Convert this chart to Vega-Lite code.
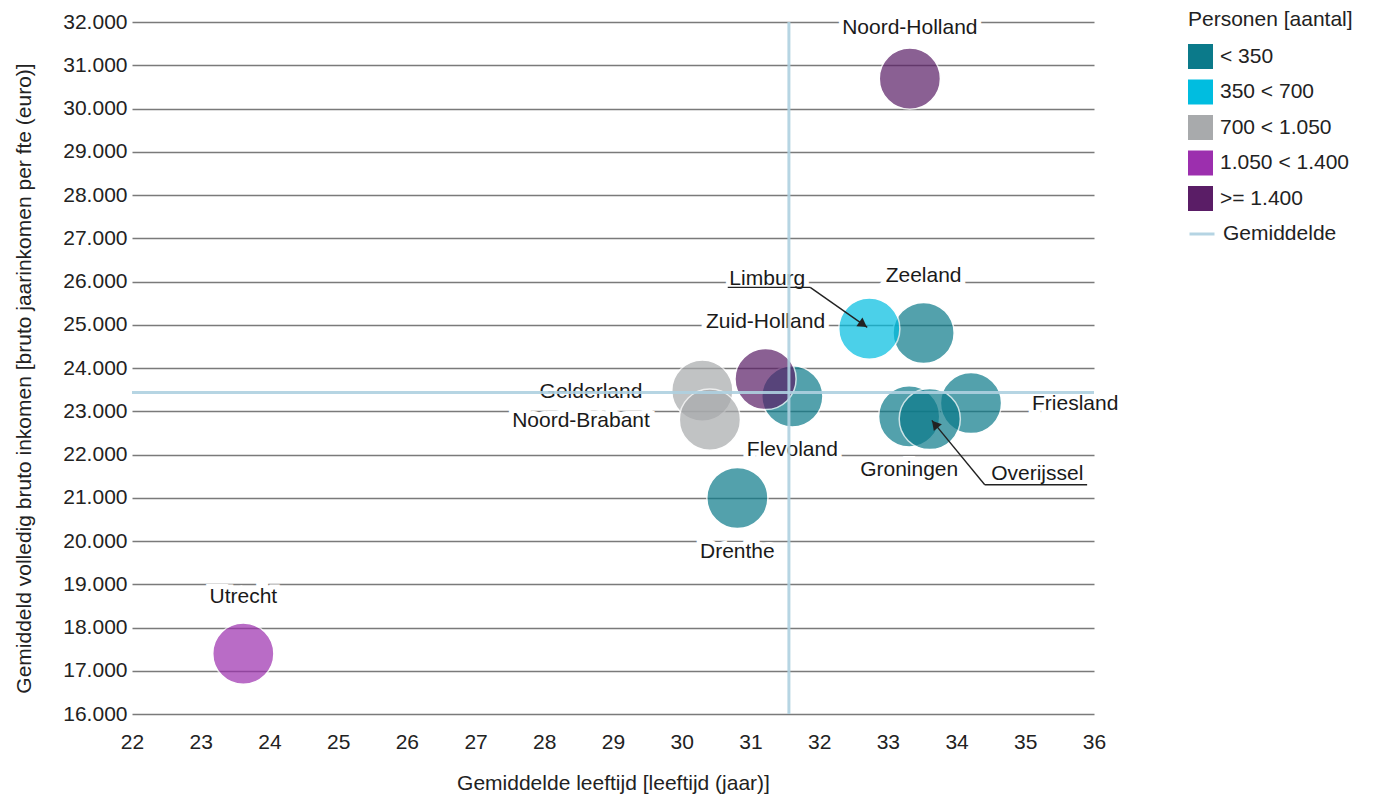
{
  "$schema": "https://vega.github.io/schema/vega-lite/v6.json",
  "width": 962,
  "height": 692,
  "autosize": {"type": "none"},
  "padding": {"left": 132, "top": 22, "right": 286, "bottom": 88},
  "background": "white",
  "config": {
    "font": "Liberation Sans",
    "view": {"stroke": null},
    "axisY": {
      "grid": true, "gridColor": "#7a7a7a", "gridWidth": 1.5, "domain": false, "ticks": false,
      "labelPadding": 5, "labelFontSize": 21, "labelColor": "#222", "labelFlush": false,
      "titleFontSize": 21, "titleFontWeight": "normal", "titleColor": "#222", "titlePadding": 28
    },
    "axisX": {
      "grid": false, "domain": false, "ticks": false,
      "labelPadding": 17, "labelFontSize": 21, "labelColor": "#222", "labelFlush": false,
      "titleFontSize": 21, "titleFontWeight": "normal", "titleColor": "#222", "titlePadding": 20
    },
    "legend": {
      "titleFontSize": 21, "titleFontWeight": "normal", "titleColor": "#222",
      "labelFontSize": 21, "labelColor": "#222", "labelOffset": 7,
      "rowPadding": 10.5, "titlePadding": 14
    }
  },
  "datasets": {
    "prov": [
      {"name": "Zeeland", "age": 33.52, "income": 24810, "cat": "< 350"},
      {"name": "Flevoland", "age": 31.61, "income": 23345, "cat": "< 350"},
      {"name": "Gelderland", "age": 30.30, "income": 23475, "cat": "700 < 1.050"},
      {"name": "Groningen", "age": 33.31, "income": 22880, "cat": "< 350"},
      {"name": "Friesland", "age": 34.21, "income": 23190, "cat": "< 350"},
      {"name": "Drenthe", "age": 30.81, "income": 20995, "cat": "< 350"},
      {"name": "Limburg", "age": 32.73, "income": 24910, "cat": "350 < 700"},
      {"name": "Zuid-Holland", "age": 31.22, "income": 23745, "cat": ">= 1.400"},
      {"name": "Noord-Brabant", "age": 30.41, "income": 22805, "cat": "700 < 1.050"},
      {"name": "Overijssel", "age": 33.61, "income": 22820, "cat": "< 350"},
      {"name": "Noord-Holland", "age": 33.32, "income": 30690, "cat": ">= 1.400"},
      {"name": "Utrecht", "age": 23.62, "income": 17395, "cat": "1.050 < 1.400"}
    ],
    "mean": [
      {"label": "Gemiddelde", "age": 31.56, "income": 23435}
    ],
    "leaders": [
      {"name": "Limburg", "xa": 30.67, "ya": 25864, "xb": 31.87, "yb": 25864},
      {"name": "Limburg", "xa": 31.87, "ya": 25864, "xb": 32.70, "yb": 24939},
      {"name": "Overijssel", "xa": 34.41, "ya": 21302, "xb": 35.90, "yb": 21302},
      {"name": "Overijssel", "xa": 34.41, "ya": 21302, "xb": 33.64, "yb": 22788}
    ],
    "arrows": [
      {"name": "Limburg", "age": 32.64, "income": 25006},
      {"name": "Overijssel", "age": 33.685, "income": 22701}
    ]
  },
  "encoding": {
    "x": {
      "field": "age", "type": "quantitative",
      "scale": {"domain": [22, 36], "nice": false, "zero": false},
      "axis": {"title": "Gemiddelde leeftijd [leeftijd (jaar)]", "values": [22,23,24,25,26,27,28,29,30,31,32,33,34,35,36]}
    },
    "y": {
      "field": "income", "type": "quantitative",
      "scale": {"domain": [16000, 32000], "nice": false, "zero": false},
      "axis": {
        "title": "Gemiddeld volledig bruto inkomen [bruto jaarinkomen per fte (euro)]",
        "titleY": 356,
        "values": [16000,17000,18000,19000,20000,21000,22000,23000,24000,25000,26000,27000,28000,29000,30000,31000,32000],
        "labelExpr": "replace(format(datum.value, ',.0f'), ',', '.')"
      }
    }
  },
  "layer": [
    {
      "data": {"name": "prov"},
      "transform": [{"filter": {"field": "name", "oneOf": ["Zeeland", "Zuid-Holland", "Utrecht"]}}],
      "encoding": {"text": {"field": "name"}},
      "layer": [
        {"mark": {"type": "text", "dy": -57, "fontSize": 21, "baseline": "middle", "fill": "white", "stroke": "white", "strokeWidth": 10}},
        {"mark": {"type": "text", "dy": -57, "fontSize": 21, "baseline": "middle", "fill": "#1a1a1a"}}
      ]
    },
    {
      "data": {"name": "prov"},
      "transform": [{"filter": {"field": "name", "oneOf": ["Noord-Holland"]}}],
      "encoding": {"text": {"field": "name"}},
      "layer": [
        {"mark": {"type": "text", "dy": -51, "fontSize": 21, "baseline": "middle", "fill": "white", "stroke": "white", "strokeWidth": 10}},
        {"mark": {"type": "text", "dy": -51, "fontSize": 21, "baseline": "middle", "fill": "#1a1a1a"}}
      ]
    },
    {
      "data": {"name": "prov"},
      "transform": [{"filter": {"field": "name", "oneOf": ["Flevoland", "Drenthe", "Groningen"]}}],
      "encoding": {"text": {"field": "name"}},
      "layer": [
        {"mark": {"type": "text", "dy": 54, "fontSize": 21, "baseline": "middle", "fill": "white", "stroke": "white", "strokeWidth": 10}},
        {"mark": {"type": "text", "dy": 54, "fontSize": 21, "baseline": "middle", "fill": "#1a1a1a"}}
      ]
    },
    {
      "data": {"name": "prov"},
      "transform": [{"filter": {"field": "name", "oneOf": ["Gelderland", "Noord-Brabant"]}}],
      "encoding": {"text": {"field": "name"}},
      "layer": [
        {"mark": {"type": "text", "dx": -60, "dy": 1.5, "align": "right", "fontSize": 21, "baseline": "middle", "fill": "white", "stroke": "white", "strokeWidth": 10}},
        {"mark": {"type": "text", "dx": -60, "dy": 1.5, "align": "right", "fontSize": 21, "baseline": "middle", "fill": "#1a1a1a"}}
      ]
    },
    {
      "data": {"name": "prov"},
      "transform": [{"filter": {"field": "name", "oneOf": ["Friesland"]}}],
      "encoding": {"text": {"field": "name"}},
      "layer": [
        {"mark": {"type": "text", "dx": 61, "dy": 1, "align": "left", "fontSize": 21, "baseline": "middle", "fill": "white", "stroke": "white", "strokeWidth": 10}},
        {"mark": {"type": "text", "dx": 61, "dy": 1, "align": "left", "fontSize": 21, "baseline": "middle", "fill": "#1a1a1a"}}
      ]
    },
    {
      "data": {"name": "prov"},
      "transform": [{"filter": {"field": "name", "oneOf": ["Limburg"]}}],
      "encoding": {"text": {"field": "name"}},
      "layer": [
        {"mark": {"type": "text", "dx": -102, "dy": -50, "fontSize": 21, "baseline": "middle", "fill": "white", "stroke": "white", "strokeWidth": 10}},
        {"mark": {"type": "text", "dx": -102, "dy": -50, "fontSize": 21, "baseline": "middle", "fill": "#1a1a1a"}}
      ]
    },
    {
      "data": {"name": "prov"},
      "transform": [{"filter": {"field": "name", "oneOf": ["Overijssel"]}}],
      "encoding": {"text": {"field": "name"}},
      "layer": [
        {"mark": {"type": "text", "dx": 107.5, "dy": 55, "fontSize": 21, "baseline": "middle", "fill": "white", "stroke": "white", "strokeWidth": 10}},
        {"mark": {"type": "text", "dx": 107.5, "dy": 55, "fontSize": 21, "baseline": "middle", "fill": "#1a1a1a"}}
      ]
    },
    {
      "data": {"name": "prov"},
      "mark": {"type": "circle", "size": 3740, "opacity": 0.7, "stroke": "white", "strokeWidth": 1.5},
      "encoding": {
        "fill": {
          "field": "cat", "type": "nominal",
          "scale": {
            "domain": ["< 350", "350 < 700", "700 < 1.050", "1.050 < 1.400", ">= 1.400"],
            "range": ["#0b7a8a", "#00bde0", "#a8aaac", "#9c2fae", "#5a1d66"]
          },
          "legend": {
            "title": "Personen [aantal]", "orient": "none", "legendX": 1056, "legendY": -13,
            "symbolType": "square", "symbolSize": 625, "symbolOpacity": 1, "symbolStrokeWidth": 0
          }
        }
      }
    },
    {
      "data": {"name": "leaders"},
      "mark": {"type": "rule", "color": "#222", "strokeWidth": 1.4},
      "encoding": {
        "x": {"field": "xa", "type": "quantitative"},
        "y": {"field": "ya", "type": "quantitative"},
        "x2": {"field": "xb"},
        "y2": {"field": "yb"}
      }
    },
    {
      "data": {"name": "arrows"},
      "transform": [{"filter": {"field": "name", "oneOf": ["Limburg"]}}],
      "mark": {"type": "point", "shape": "triangle-right", "filled": true, "color": "#222", "size": 110, "angle": 35, "opacity": 1},
      "encoding": {}
    },
    {
      "data": {"name": "arrows"},
      "transform": [{"filter": {"field": "name", "oneOf": ["Overijssel"]}}],
      "mark": {"type": "point", "shape": "triangle-right", "filled": true, "color": "#222", "size": 110, "angle": 230, "opacity": 1},
      "encoding": {}
    },
    {
      "data": {"name": "mean"},
      "mark": {"type": "rule", "strokeWidth": 3, "opacity": 0.9},
      "encoding": {
        "y": null,
        "stroke": {
          "field": "label", "type": "nominal",
          "scale": {"domain": ["Gemiddelde"], "range": ["#aed0e0"]},
          "legend": {"title": null, "orient": "none", "legendX": 1056, "legendY": 198, "symbolType": "stroke", "symbolSize": 625, "symbolStrokeWidth": 3}
        }
      }
    },
    {
      "data": {"name": "mean"},
      "mark": {"type": "rule", "strokeWidth": 3, "opacity": 0.9},
      "encoding": {
        "x": null,
        "stroke": {"field": "label", "type": "nominal"}
      }
    }
  ]
}
